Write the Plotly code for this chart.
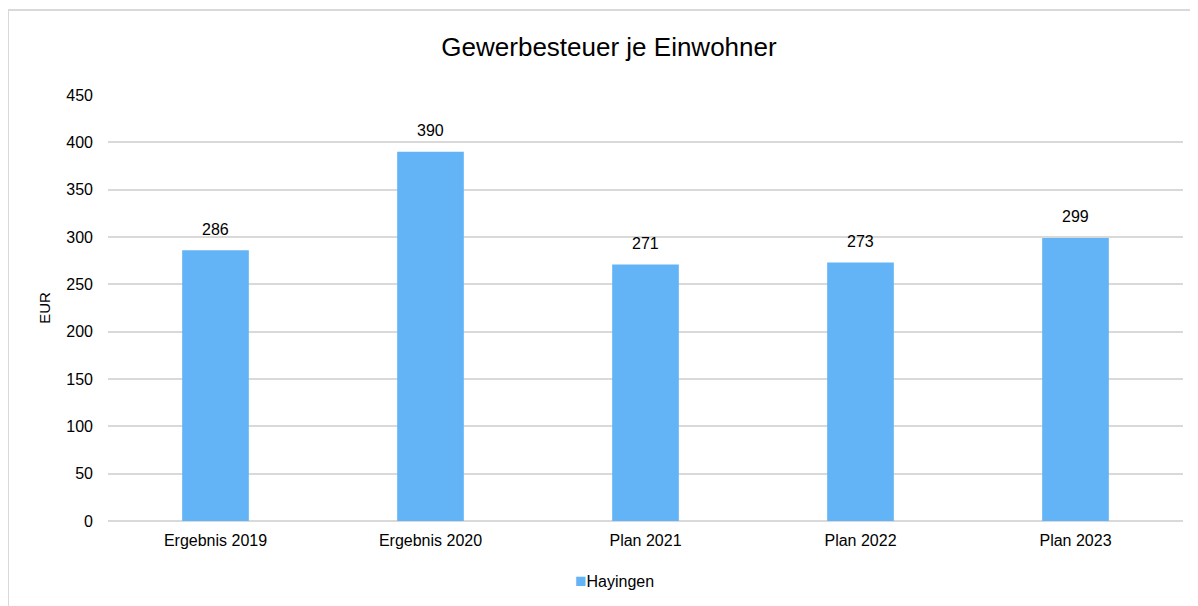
import plotly.graph_objects as go

categories = ["Ergebnis 2019", "Ergebnis 2020", "Plan 2021", "Plan 2022", "Plan 2023"]
values = [286, 390, 271, 273, 299]
series_name = "Hayingen"
y_ticks = [0, 50, 100, 150, 200, 250, 300, 350, 400, 450]
bar_color = "#63B4F6"

# page body adds an 8px offset; work in figure coordinates
W, H = 1190, 598
ml, mr, mt, mb = 100, 15, 87, 85
pw = W - ml - mr
ph = H - mt - mb

fig = go.Figure()
fig.add_trace(go.Bar(
    x=categories, y=values, name=series_name,
    marker=dict(color=bar_color, line=dict(width=0)),
    showlegend=False,
))

for c, v in zip(categories, values):
    fig.add_annotation(x=c, y=v, text=str(v), showarrow=False, yanchor="middle",
                       yshift=21, font=dict(size=16, color="#000000"))

# legend entry
fig.add_annotation(xref="paper", yref="paper", x=(606 - ml) / pw, xanchor="center",
                   y=-(572 - (H - mb)) / ph, yanchor="middle", showarrow=False,
                   text=f"<span style='color:{bar_color};font-size:19px'>■</span>{series_name}",
                   font=dict(size=16, color="#000000"))

fig.update_layout(
    width=W, height=H,
    margin=dict(l=ml, r=mr, t=mt, b=mb),
    paper_bgcolor="white", plot_bgcolor="white",
    font=dict(family="Liberation Sans, Arial, sans-serif", size=16, color="#000000"),
    title=dict(text="Gewerbesteuer je Einwohner", x=601 / W, xanchor="center",
               y=1 - 39 / H, yanchor="middle", yref="container",
               font=dict(size=26, color="#000000")),
    bargap=0.69,
    showlegend=False,
    xaxis=dict(showgrid=False, showline=False, ticks="", tickfont=dict(size=16),
               ticklabelstandoff=8),
    yaxis=dict(range=[0, 450], tickvals=y_ticks, showgrid=True, gridcolor="#D9D9D9",
               gridwidth=1.5, zeroline=True, zerolinecolor="#D9D9D9", zerolinewidth=1.5,
               showline=False, ticks="", ticklabelstandoff=14, tickfont=dict(size=16),
               title=dict(text="EUR", font=dict(size=15), standoff=12)),
)

# chart border
fig.add_shape(type="rect", xref="paper", yref="paper",
              x0=(0 - ml) / pw, x1=(W + 10 - ml) / pw,
              y0=-(H + 10 - (H - mb)) / ph, y1=((H - mb) - 2) / ph,
              line=dict(color="#D9D9D9", width=2), fillcolor="rgba(0,0,0,0)", layer="below")

fig.write_html("out.html")
